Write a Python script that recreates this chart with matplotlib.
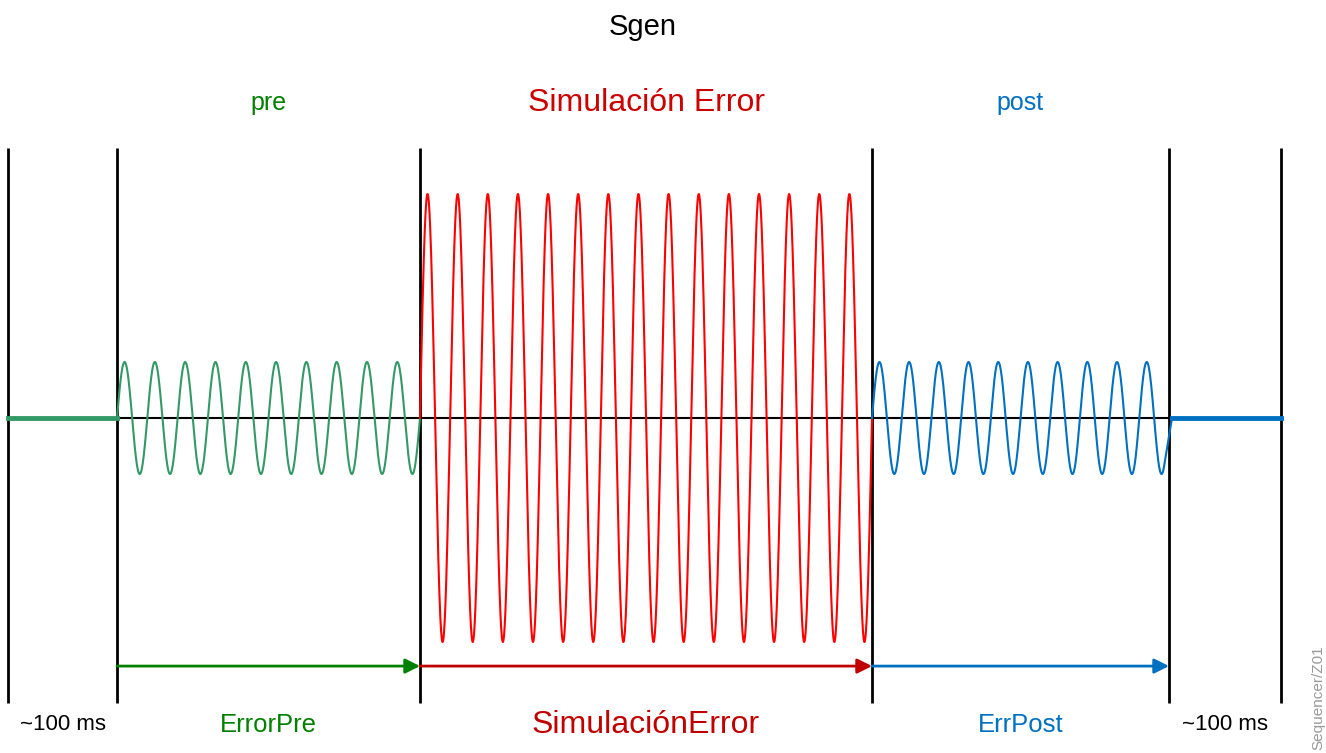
import numpy as np
import matplotlib.pyplot as plt

plt.rcParams['font.family'] = ['Liberation Sans', 'DejaVu Sans']

# segment edges along the time axis (left idle, pre, error, post, right idle)
edges = [0, 109, 412, 864, 1161, 1273]
cycles = [10, 15, 10]
amps = [1.0, 4.0, 1.0]
post_cut = 0.985  # post sine stops just after its last trough, then snaps back to 0

sig_colors = ['#339966', '#ff0000', '#0070c0']
arrow_colors = ['#008000', '#c00000', '#0070c0']
top_labels = ['pre', 'Simulación Error', 'post']
bottom_labels = ['ErrorPre', 'SimulaciónError', 'ErrPost']
side_label = '~100 ms'

fig = plt.figure(figsize=(13.26, 7.53), dpi=100)
ax = fig.add_axes([0, 0, 1, 1])
ax.set_xlim(-8, 1318)
ax.set_ylim(-335 / 56, 418 / 56)
ax.axis('off')

y_top, y_bot = 4.82, -5.09
y_arrow = -4.43

# vertical markers
for x in edges:
    ax.plot([x, x], [y_bot, y_top], color='black', lw=2, solid_capstyle='butt', zorder=1)

# baseline
ax.plot([edges[1], edges[4]], [0, 0], color='black', lw=1.5, zorder=2)

# idle parts
ax.plot([edges[0], edges[1]], [0, 0], color=sig_colors[0], lw=3.5, zorder=3)
ax.plot([edges[4] + 3, edges[5]], [0, 0], color=sig_colors[2], lw=3.5, zorder=3)

# sine bursts
for i in range(3):
    a, b = edges[i + 1], edges[i + 2]
    frac = post_cut if i == 2 else 1.0
    t = np.linspace(0, frac, 2000)
    x = a + (b - a) * t
    y = amps[i] * np.sin(2 * np.pi * cycles[i] * t)
    if i == 2:
        x = np.append(x, edges[4] + 3)
        y = np.append(y, 0)
    ax.plot(x, y, color=sig_colors[i], lw=1.5, zorder=4)

    # arrows
    ax.annotate('', xy=(b, y_arrow), xytext=(a, y_arrow),
                arrowprops=dict(arrowstyle='-|>', color=arrow_colors[i], lw=2,
                                mutation_scale=22, shrinkA=0, shrinkB=0))

    mid = (a + b) / 2
    ax.text(mid, 5.62, top_labels[i], color=arrow_colors[i] if i != 1 else '#cc0000',
            fontsize=23 if i == 1 else 18, ha='center', va='center')
    ax.text(mid, -5.48, bottom_labels[i], color=arrow_colors[i] if i != 1 else '#c00000',
            fontsize=23 if i == 1 else 18.5, ha='center', va='center')

ax.text((edges[0] + edges[1]) / 2, -5.48, side_label, fontsize=16, ha='center', va='center')
ax.text((edges[4] + edges[5]) / 2, -5.48, side_label, fontsize=16, ha='center', va='center')

ax.text(635, 6.98, 'Sgen', fontsize=21, ha='center', va='center')
ax.text(1310, -5.0, 'Sequencer/Z01', fontsize=11, color='#999999', rotation=90,
        ha='center', va='center')

fig.savefig('out.png', dpi=100)
